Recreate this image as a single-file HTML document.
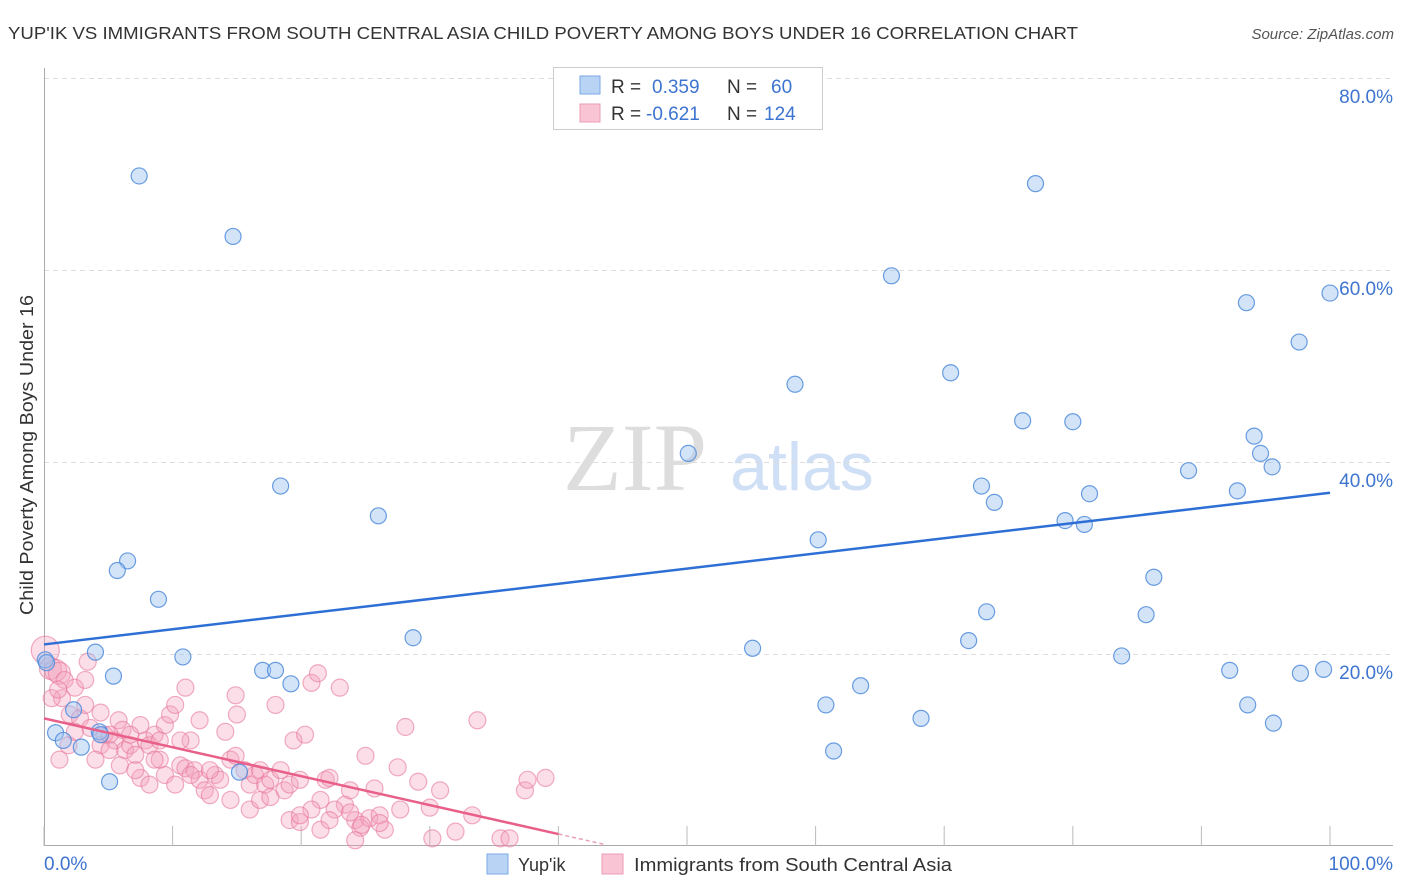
<!DOCTYPE html>
<html><head><meta charset="utf-8"><style>
body{margin:0;background:#fff;font-family:"Liberation Sans",sans-serif}
svg{display:block}
</style></head><body>
<svg id="chart" width="1406" height="892" xmlns="http://www.w3.org/2000/svg">
<text x="8" y="39" font-size="17.5" fill="#333" textLength="1070" lengthAdjust="spacingAndGlyphs">YUP'IK VS IMMIGRANTS FROM SOUTH CENTRAL ASIA CHILD POVERTY AMONG BOYS UNDER 16 CORRELATION CHART</text>
<text x="1394" y="39" font-size="15" fill="#555" font-style="italic" text-anchor="end">Source: ZipAtlas.com</text>
<text transform="translate(33,455) rotate(-90)" font-size="18" fill="#333" text-anchor="middle" textLength="320" lengthAdjust="spacingAndGlyphs">Child Poverty Among Boys Under 16</text>
<g>
<text x="635" y="490" font-size="96" fill="#ddd" font-family="Liberation Serif,serif" text-anchor="middle">ZIP</text>
<text x="802" y="490" font-size="68" fill="#cfdff5" text-anchor="middle">atlas</text>
</g>
<g id="grid"></g>
<g id="axes"></g>
<g id="pink"></g>
<g id="blue"></g>
<g id="trends"></g>
<g>
<rect x="553.5" y="67.5" width="269" height="62" fill="#fff" stroke="#ccc"/>
<rect x="580" y="76" width="20" height="18" fill="#b9d3f5" stroke="#7aa8e6"/>
<rect x="580" y="104" width="20" height="18" fill="#f9c4d3" stroke="#ec9bb5"/>
<text x="611" y="93" font-size="19" fill="#333">R = <tspan fill="#3d74d0" x="652">0.359</tspan><tspan fill="#333" x="727">N =</tspan><tspan fill="#3d74d0" x="771">60</tspan></text>
<text x="611" y="120" font-size="19" fill="#333">R = <tspan fill="#3d74d0" x="646">-0.621</tspan><tspan fill="#333" x="727">N =</tspan><tspan fill="#3d74d0" x="764">124</tspan></text>
</g>
<g>
<rect x="487" y="854" width="21" height="20" fill="#b9d3f5" stroke="#7aa8e6"/>
<text x="518" y="871" font-size="18" fill="#333">Yup'ik</text>
<rect x="602" y="854" width="21" height="20" fill="#f9c4d3" stroke="#ec9bb5"/>
<text x="634" y="871" font-size="18" fill="#333" textLength="318" lengthAdjust="spacingAndGlyphs">Immigrants from South Central Asia</text>
</g>
</svg>
<script>
const yTicks=[20,40,60,80];
const yTickLabels=["20.0%","40.0%","60.0%","80.0%"];
const xTicks=[0,10,20,30,40,50,60,70,80,90,100];
const blueX=[7.4,14.7,77.1,65.9,93.5,100,97.6,58.4,70.5,76.1,80.0,94.1,50.1,94.6,95.5,89.0,72.9,92.8,18.4,73.9,81.3,26.0,79.4,80.9,60.2,6.5,5.7,86.3,8.9,73.3,85.7,28.7,71.9,55.1,4.0,10.8,83.8,17.0,18.0,92.2,99.5,97.7,5.4,19.2,63.5,60.8,93.6,68.2,95.6,0.9,1.5,2.3,4.3,2.9,61.4,5.1,15.2,0.1,0.2,4.4];
const blueY=[69.9,63.6,69.1,59.5,56.7,57.7,52.6,48.2,49.4,44.4,44.3,42.8,41.0,41.0,39.6,39.2,37.6,37.1,37.6,35.9,36.8,34.5,34.0,33.6,32.0,29.8,28.8,28.1,25.8,24.5,24.2,21.8,21.5,20.7,20.3,19.8,19.9,18.4,18.4,18.4,18.5,18.1,17.8,17.0,16.8,14.8,14.8,13.4,12.9,11.9,11.1,14.3,12.0,10.4,10.0,6.8,7.8,19.5,19.2,11.7];
const pinkX=[0.1,0.5,0.9,1.2,1.6,2.4,3.4,1.4,2.0,2.8,3.6,4.4,4.7,4.0,5.8,6.1,5.5,6.3,6.7,7.1,7.5,7.9,8.2,8.6,9.0,9.4,9.8,10.2,11.0,11.4,7.5,8.2,9.0,9.4,10.2,10.6,11.0,11.7,12.1,12.5,12.9,13.3,13.7,14.1,14.5,14.9,15.0,15.6,16.0,16.4,16.8,17.2,17.6,18.0,18.4,18.7,19.1,19.4,19.9,20.3,20.8,21.3,21.5,21.9,22.2,23.0,23.4,23.8,24.2,24.6,25.0,25.3,25.7,26.1,26.5,27.5,28.1,29.1,30.0,30.2,30.8,32.0,33.3,33.7,35.5,36.2,37.4,37.6,39.0,1.2,3.2,5.1,6.7,8.6,12.1,12.9,16.0,14.5,16.8,19.1,19.9,20.8,21.5,22.6,23.8,24.2,24.7,26.1,11.4,5.9,1.9,2.4,4.4,5.1,7.1,10.6,14.9,17.6,19.9,22.2,27.7,0.6,1.1,3.2];
const pinkY=[20.5,18.6,18.4,18.1,17.4,16.6,19.3,15.5,13.8,13.4,12.4,10.6,11.7,9.1,13.2,12.2,11.1,10.1,10.6,9.6,12.7,11.1,10.6,11.7,11.1,12.7,13.8,14.8,16.6,11.1,7.2,6.5,9.1,7.5,6.5,8.5,8.2,8.0,7.0,5.9,5.4,7.5,7.0,12.0,9.1,15.8,13.8,8.0,6.5,7.5,8.0,6.5,7.0,14.8,8.0,5.9,6.5,11.1,7.0,11.7,17.1,18.1,4.9,7.0,7.2,16.6,4.4,5.9,2.8,2.0,9.5,3.0,6.1,3.3,1.8,8.3,12.5,6.8,4.1,0.9,5.9,1.6,3.3,13.2,0.9,0.9,5.9,7.0,7.2,9.1,14.8,11.7,11.7,9.1,13.2,8.0,3.9,4.9,4.9,2.8,2.6,3.9,1.8,3.9,3.6,0.7,2.3,2.5,7.5,8.5,10.6,12.0,14.0,10.1,8.0,11.1,9.5,5.2,3.3,2.8,3.9,15.5,16.4,17.4];
const blueTrend=[21.1,36.9];
const pinkTrend=[13.4,1.35];
const NS="http://www.w3.org/2000/svg";
const X=v=>44+v*12.86, Y=v=>847-v*9.6;
function mk(tag,attrs,parent){const e=document.createElementNS(NS,tag);for(const k in attrs)e.setAttribute(k,attrs[k]);parent.appendChild(e);return e;}
const grid=document.getElementById('grid'),axes=document.getElementById('axes');
yTicks.forEach((t,i)=>{
 const l=mk('line',{x1:44,x2:1393,y1:Y(t)-0.5,y2:Y(t)-0.5,stroke:'#ddd','stroke-dasharray':'5,4'},grid);
 
 
 const tx=mk('text',{x:1393,y:Y(t)+24,'font-size':19,fill:'#3d74d0','text-anchor':'end'},axes);
 tx.textContent=yTickLabels[i];
 
 
});
mk('line',{x1:44.5,x2:44.5,y1:68,y2:846,stroke:'#aaa'},axes);
mk('line',{x1:44,x2:1393,y1:845.5,y2:845.5,stroke:'#aaa'},axes);
xTicks.forEach(t=>{
 const l=mk('line',{x1:X(t),x2:X(t),y1:826,y2:846,stroke:'#bbb'},axes);
 
 
});
let t0=mk('text',{x:44,y:870,'font-size':19,fill:'#3d74d0'},axes);t0.textContent='0.0%';


let t1=mk('text',{x:1393,y:870,'font-size':19,fill:'#3d74d0','text-anchor':'end'},axes);t1.textContent='100.0%';


const pg=document.getElementById('pink');
pinkX.forEach((x,i)=>{
 const c=mk('circle',{cx:X(x),cy:Y(pinkY[i]),r:i===0?14:(i<4?11:8.5),fill:'rgba(244,160,188,0.35)',stroke:'rgba(232,120,155,0.6)','stroke-width':1.2},pg);
 
 
});
const bg=document.getElementById('blue');
blueX.forEach((x,i)=>{
 const c=mk('circle',{cx:X(x),cy:Y(blueY[i]),r:8,fill:'rgba(160,196,240,0.45)',stroke:'rgba(80,140,220,0.85)','stroke-width':1.2},bg);
 
 
});
const tg=document.getElementById('trends');
let bl=mk('line',{x1:X(0),y1:Y(blueTrend[0]),x2:X(100),y2:Y(blueTrend[1]),stroke:'#2e6fd6','stroke-width':2.5},tg);


let pl=mk('line',{x1:X(0),y1:Y(pinkTrend[0]),x2:X(40),y2:Y(pinkTrend[1]),stroke:'#e8608a','stroke-width':2.5},tg);


const slope=(pinkTrend[1]-pinkTrend[0])/40;
let pd=mk('line',{x1:X(40),y1:Y(pinkTrend[1]),x2:X(43.5),y2:Y(pinkTrend[0]+slope*43.5),stroke:'#e8a0b8','stroke-width':1.5,'stroke-dasharray':'4,3'},tg);


</script>
</body></html>
